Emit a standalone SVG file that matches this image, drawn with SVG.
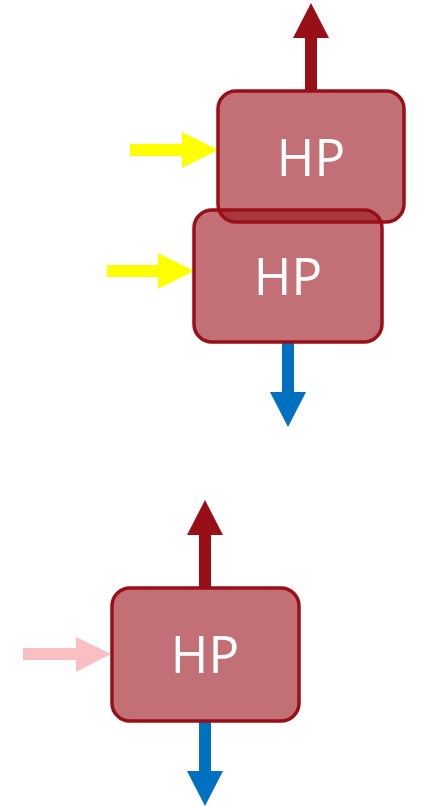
<svg xmlns="http://www.w3.org/2000/svg" width="423" height="806" viewBox="0 0 423 806">
<style>
.box{fill:#99101a;fill-opacity:0.6;stroke:#990f17;stroke-width:3.5}
.lbl{font-family:"Open Sans","Noto Sans","Liberation Sans",sans-serif;font-size:51px;fill:#ffffff;text-anchor:middle}
.red{fill:#990f17}
.blue{fill:#0070c0}
.yellow{fill:#ffff00}
.pink{fill:#f9bfc3}
</style>
<rect width="423" height="806" fill="#ffffff"/>
<g id="connectors">
<path class="red" d="M305,91 V38 H293 L311,3 L329,38 H317 V91 Z"/>
<path class="yellow" d="M130,144 H182 V132 L218,150 L182,168 V156 H130 Z"/>
<path class="yellow" d="M107,265 H158 V253 L194,271 L158,289 V277 H107 Z"/>
<path class="blue" d="M282,342 V392 H270 L288,427 L306,392 H294 V342 Z"/>
<path class="red" d="M199,588 V535 H187 L205,500 L223,535 H211 V588 Z"/>
<path class="blue" d="M199,720 V771 H187 L205,806 L223,771 H211 V720 Z"/>
<path class="pink" d="M23,648 H76 V637 L111,654 L76,672 V660 H23 Z"/>
</g>
<g id="hp1">
<rect class="box" x="218" y="91" width="186" height="131" rx="18"/>
<text class="lbl" x="311" y="176">HP</text>
</g>
<g id="hp2">
<rect class="box" x="194" y="210" width="188" height="132" rx="18"/>
<text class="lbl" x="288" y="295">HP</text>
</g>
<g id="hp3">
<rect class="box" x="112" y="588" width="187" height="133" rx="18"/>
<text class="lbl" x="205" y="673">HP</text>
</g>
</svg>
